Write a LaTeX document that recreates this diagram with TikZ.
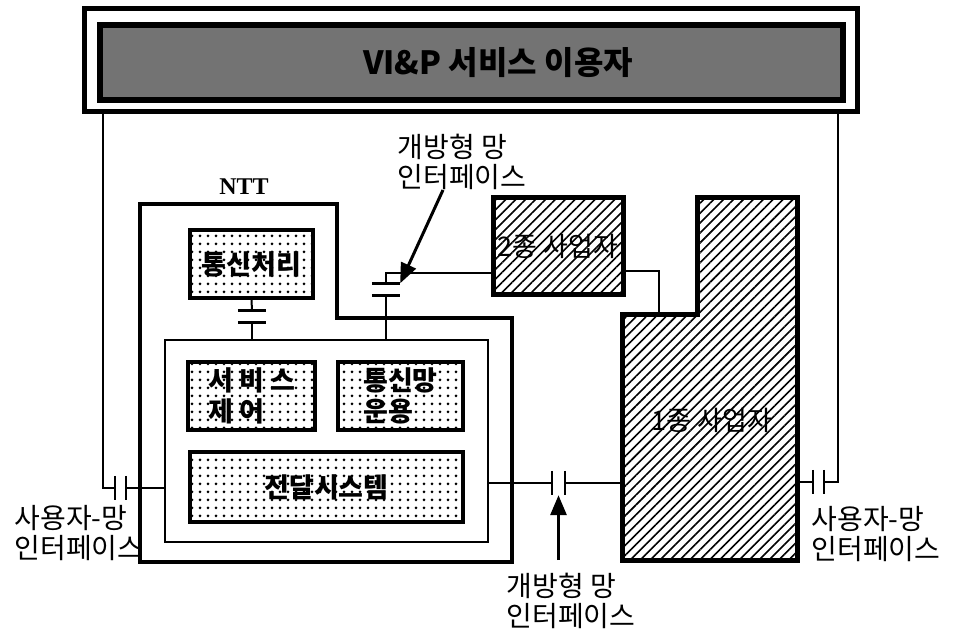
\documentclass[tikz,border=0pt]{standalone}
\usepackage{fontspec}
\newfontfamily\kr{Noto Sans CJK KR}
\newfontfamily\lserif{Liberation Serif}
\usetikzlibrary{arrows.meta, patterns.meta, positioning}
\tikzset{
    wire/.style={line width=2pt},
    plate/.style={line width=2.5pt},
    dotbox/.style={rectangle, draw, line width=4pt, pattern={Dots[distance=8pt, radius=1.5pt]}, font=\kr\bfseries\fontsize{27}{31}\selectfont, align=left, inner sep=0pt},
    hatchbox/.style={draw, line width=5pt, pattern={Lines[angle=45, distance=7pt, line width=1.6pt]}},
    hatchtext/.style={font=\kr\fontsize{27}{30}\selectfont, inner sep=0pt},
    capv/.style={minimum width=28pt, minimum height=12pt, inner sep=0pt},
    caph/.style={minimum width=11pt, minimum height=24pt, inner sep=0pt},
    pointer/.style={line width=3pt, -{Triangle[width=16pt, length=20pt]}},
    labelstyle/.style={font=\kr\fontsize{28}{30}\selectfont, align=left, inner sep=0pt},
}
\begin{document}
\begin{tikzpicture}[x=1pt, y=-1pt]
    \useasboundingbox (0,0) rectangle (956,636);

    % Service users
    \node[draw, line width=5pt, minimum width=773pt, minimum height=103pt] (frame) at (470.5,60.5) {};
    \node[draw, line width=6pt, fill=black!55, minimum width=743pt, minimum height=75pt] (users) at (471.5,62.5) {};
    \node[font=\kr\bfseries\fontsize{32}{34}\selectfont, inner sep=0pt] (title) at (498,62.5) {VI\&P 서비스 이용자};

    % NTT
    \draw[line width=4.5pt] (140,204) -- (337,204) -- (337,318) -- (512,318) -- (512,562) -- (140,562) -- cycle;
    \node[font=\lserif\bfseries\fontsize{24}{26}\selectfont] (ntt) at (244,187) {NTT};
    \node[draw, line width=2.5pt, minimum width=323pt, minimum height=202pt] (core) at (326.5,441) {};
    \node[dotbox, minimum width=123pt, minimum height=68pt] (proc) at (251.5,264) {통신처리};
    \node[dotbox, minimum width=127pt, minimum height=68pt] (ctrl) at (251.5,396) {서 비 스\\제 어};
    \node[dotbox, minimum width=125pt, minimum height=68pt] (mgmt) at (400.5,396) {통신망\\운용};
    \node[dotbox, minimum width=273pt, minimum height=70pt] (trans) at (326.5,487) {전달시스템};

    % Carriers
    \node[hatchbox, minimum width=130pt, minimum height=97pt, hatchtext] (op2) at (558,246.5) {2종 사업자};
    \draw[hatchbox] (622,315) coordinate (op1-nw) -- (697,315) -- (697,198) -- (797,198) coordinate (op1-ne) -- (797,560) -- (622,560) coordinate (op1-sw) -- cycle;
    \node[hatchtext] (op1) at (712,420) {1종 사업자};

    % Interfaces
    \node[capv] (capA) at (252,316.5) {};
    \node[capv] (capB) at (386,289.5) {};
    \node[caph] (capL) at (120.5,488) {};
    \node[caph, minimum width=13pt] (capM) at (558.5,483) {};
    \node[caph] (capR) at (818.5,482) {};
    \foreach \c in {capA, capB}
        \draw[plate] (\c.north west) -- (\c.north east) (\c.south west) -- (\c.south east);
    \foreach \c in {capL, capM, capR}
        \draw[plate] (\c.north west) -- (\c.south west) (\c.north east) -- (\c.south east);

    % Wires
    \draw[wire] (proc.south) -- (capA.north);
    \draw[wire] (capA.south) -- (capA.south |- core.north);
    \draw[wire] (capB.south) -- (capB.south |- core.north);
    \draw[wire] (capB.north) -- ++(0,-10) coordinate (capBtop) -- (capBtop -| op2.west);
    \draw[wire] ([yshift=-25pt]op2.east) -| ([xshift=37pt]op1-nw);
    \draw[wire] ([xshift=21pt]frame.south west) |- (capL.west);
    \draw[wire] (capL.east) -- (capL.east -| core.west);
    \draw[wire] (capM.west -| core.east) -- (capM.west);
    \draw[wire] (capM.east) -- (capM.east -| op1-sw);
    \draw[wire] ([xshift=-22pt]frame.south east) |- (capR.east);
    \draw[wire] (capR.west -| op1-ne) -- (capR.west);

    % Labels
    \node[labelstyle] (lblTop) at (462,162) {개방형 망\\인터페이스};
    \node[labelstyle] (lblBot) at (571,601) {개방형 망\\인터페이스};
    \node[labelstyle] (lblL) at (79,533) {사용자-망\\인터페이스};
    \node[labelstyle] (lblR) at (876,534) {사용자-망\\인터페이스};
    \draw[pointer] ([xshift=-19pt]lblTop.south) -- (capB.north east);
    \draw[pointer] ([yshift=13pt]capM |- lblBot.north) -- (capM.south);

\end{tikzpicture}
\end{document}
